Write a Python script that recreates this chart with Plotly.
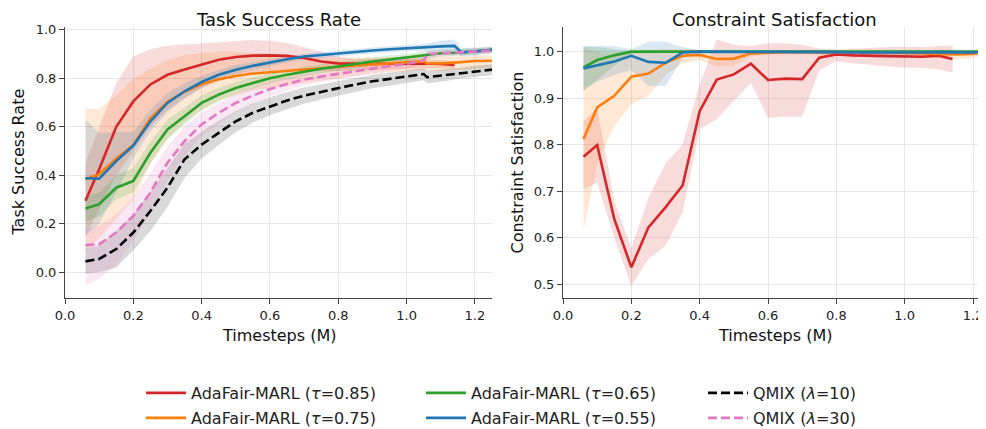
import plotly.graph_objects as go

# ---------------- DATA: Task Success Rate (left) ----------------
tsr_red_x = [0.06, 0.10, 0.15, 0.20, 0.25, 0.30, 0.35, 0.40, 0.45, 0.50, 0.55, 0.60, 0.65, 0.70, 0.75, 0.80, 0.85, 0.90, 0.95, 1.00, 1.05, 1.10, 1.14]
tsr_red = [0.295, 0.425, 0.60, 0.705, 0.775, 0.815, 0.837, 0.858, 0.877, 0.888, 0.894, 0.895, 0.893, 0.884, 0.870, 0.862, 0.860, 0.860, 0.861, 0.862, 0.862, 0.860, 0.855]
tsr_red_hi = [0.45, 0.60, 0.78, 0.89, 0.92, 0.935, 0.94, 0.945, 0.95, 0.955, 0.958, 0.955, 0.945, 0.93, 0.91, 0.89, 0.88, 0.88, 0.88, 0.88, 0.88, 0.875, 0.87]
tsr_red_lo = [0.15, 0.26, 0.40, 0.50, 0.60, 0.67, 0.72, 0.76, 0.79, 0.81, 0.82, 0.83, 0.835, 0.835, 0.83, 0.83, 0.83, 0.835, 0.838, 0.84, 0.842, 0.842, 0.84]

tsr_orange_x = [0.06, 0.10, 0.15, 0.20, 0.25, 0.30, 0.35, 0.40, 0.45, 0.50, 0.55, 0.60, 0.65, 0.70, 0.75, 0.80, 0.85, 0.90, 0.95, 1.00, 1.05, 1.06, 1.10, 1.15, 1.20, 1.25]
tsr_orange = [0.384, 0.405, 0.47, 0.525, 0.635, 0.703, 0.745, 0.776, 0.796, 0.81, 0.82, 0.826, 0.832, 0.838, 0.843, 0.848, 0.853, 0.858, 0.862, 0.866, 0.87, 0.862, 0.862, 0.866, 0.872, 0.873]
tsr_orange_hi = [0.675, 0.675, 0.73, 0.80, 0.84, 0.875, 0.895, 0.905, 0.91, 0.91, 0.905, 0.90, 0.895, 0.89, 0.885, 0.885, 0.885, 0.885, 0.888, 0.89, 0.895, 0.89, 0.89, 0.89, 0.895, 0.895]
tsr_orange_lo = [0.09, 0.14, 0.22, 0.30, 0.45, 0.55, 0.62, 0.67, 0.71, 0.73, 0.75, 0.76, 0.77, 0.78, 0.79, 0.80, 0.81, 0.82, 0.825, 0.83, 0.835, 0.83, 0.83, 0.835, 0.84, 0.845]

tsr_green_x = [0.06, 0.10, 0.15, 0.20, 0.25, 0.30, 0.35, 0.40, 0.45, 0.50, 0.55, 0.60, 0.65, 0.70, 0.75, 0.80, 0.85, 0.90, 0.95, 1.00, 1.05, 1.10, 1.15, 1.20, 1.25]
tsr_green = [0.263, 0.281, 0.349, 0.377, 0.493, 0.589, 0.644, 0.699, 0.733, 0.76, 0.781, 0.801, 0.815, 0.829, 0.84, 0.849, 0.86, 0.87, 0.878, 0.886, 0.893, 0.904, 0.906, 0.911, 0.918]
tsr_green_hi = [0.31, 0.33, 0.40, 0.43, 0.54, 0.63, 0.68, 0.73, 0.76, 0.785, 0.805, 0.822, 0.835, 0.848, 0.858, 0.867, 0.877, 0.886, 0.894, 0.902, 0.909, 0.918, 0.92, 0.924, 0.93]
tsr_green_lo = [0.21, 0.23, 0.30, 0.33, 0.45, 0.55, 0.61, 0.67, 0.705, 0.735, 0.757, 0.78, 0.795, 0.81, 0.822, 0.831, 0.843, 0.854, 0.862, 0.87, 0.877, 0.89, 0.892, 0.898, 0.906]

tsr_blue_x = [0.06, 0.10, 0.15, 0.20, 0.25, 0.30, 0.35, 0.40, 0.45, 0.50, 0.55, 0.60, 0.65, 0.70, 0.75, 0.80, 0.85, 0.90, 0.95, 1.00, 1.05, 1.10, 1.14, 1.16, 1.20, 1.25]
tsr_blue = [0.388, 0.386, 0.459, 0.523, 0.623, 0.699, 0.747, 0.785, 0.815, 0.836, 0.852, 0.866, 0.879, 0.89, 0.897, 0.904, 0.91, 0.915, 0.92, 0.925, 0.927, 0.932, 0.934, 0.908, 0.911, 0.918]
tsr_blue_hi = [0.63, 0.575, 0.58, 0.58, 0.67, 0.74, 0.78, 0.81, 0.835, 0.855, 0.868, 0.88, 0.892, 0.902, 0.909, 0.916, 0.922, 0.927, 0.933, 0.938, 0.942, 0.955, 0.96, 0.925, 0.926, 0.93]
tsr_blue_lo = [0.15, 0.20, 0.33, 0.47, 0.58, 0.66, 0.715, 0.76, 0.795, 0.818, 0.836, 0.852, 0.866, 0.878, 0.885, 0.892, 0.898, 0.903, 0.907, 0.912, 0.912, 0.912, 0.91, 0.892, 0.896, 0.905]

tsr_black_x = [0.06, 0.10, 0.15, 0.20, 0.25, 0.30, 0.35, 0.40, 0.45, 0.50, 0.55, 0.60, 0.65, 0.70, 0.75, 0.80, 0.85, 0.90, 0.95, 1.00, 1.05, 1.06, 1.10, 1.15, 1.20, 1.25]
tsr_black = [0.045, 0.055, 0.096, 0.164, 0.253, 0.349, 0.466, 0.527, 0.575, 0.623, 0.658, 0.685, 0.709, 0.729, 0.745, 0.76, 0.775, 0.788, 0.798, 0.808, 0.818, 0.805, 0.811, 0.82, 0.829, 0.836]
tsr_black_hi = [0.10, 0.11, 0.17, 0.24, 0.33, 0.43, 0.53, 0.58, 0.625, 0.665, 0.697, 0.722, 0.744, 0.762, 0.776, 0.79, 0.803, 0.815, 0.824, 0.833, 0.842, 0.83, 0.835, 0.843, 0.852, 0.858]
tsr_black_lo = [-0.005, 0.0, 0.02, 0.09, 0.17, 0.27, 0.39, 0.47, 0.525, 0.578, 0.618, 0.648, 0.673, 0.695, 0.713, 0.729, 0.745, 0.759, 0.77, 0.781, 0.792, 0.78, 0.786, 0.797, 0.806, 0.814]

tsr_pink_x = [0.06, 0.10, 0.15, 0.20, 0.25, 0.30, 0.35, 0.40, 0.45, 0.50, 0.55, 0.60, 0.65, 0.70, 0.75, 0.80, 0.85, 0.90, 0.95, 1.00, 1.05, 1.06, 1.10, 1.15, 1.20, 1.25]
tsr_pink = [0.112, 0.116, 0.164, 0.233, 0.329, 0.452, 0.541, 0.61, 0.658, 0.699, 0.729, 0.756, 0.777, 0.795, 0.808, 0.819, 0.831, 0.842, 0.851, 0.86, 0.874, 0.90, 0.904, 0.906, 0.911, 0.915]
tsr_pink_hi = [0.18, 0.19, 0.24, 0.31, 0.41, 0.52, 0.60, 0.66, 0.70, 0.735, 0.762, 0.787, 0.805, 0.82, 0.833, 0.843, 0.853, 0.863, 0.872, 0.88, 0.892, 0.915, 0.918, 0.92, 0.924, 0.928]
tsr_pink_lo = [-0.055, -0.027, 0.03, 0.13, 0.25, 0.38, 0.48, 0.56, 0.615, 0.66, 0.695, 0.725, 0.75, 0.77, 0.785, 0.797, 0.81, 0.822, 0.832, 0.841, 0.857, 0.885, 0.89, 0.893, 0.898, 0.902]

# ---------------- DATA: Constraint Satisfaction (right) ----------------
cs_red_x = [0.06, 0.10, 0.15, 0.20, 0.25, 0.30, 0.35, 0.40, 0.45, 0.50, 0.55, 0.60, 0.65, 0.70, 0.75, 0.80, 0.85, 0.90, 0.95, 1.00, 1.05, 1.10, 1.14]
cs_red = [0.774, 0.799, 0.64, 0.536, 0.622, 0.665, 0.712, 0.872, 0.94, 0.951, 0.974, 0.939, 0.942, 0.941, 0.987, 0.994, 0.992, 0.991, 0.99, 0.989, 0.989, 0.991, 0.984]
cs_red_hi = [0.85, 0.88, 0.68, 0.577, 0.685, 0.76, 0.80, 0.93, 1.026, 1.015, 1.012, 1.018, 1.018, 1.015, 1.006, 1.004, 1.006, 1.008, 1.01, 1.01, 1.01, 1.012, 1.013]
cs_red_lo = [0.704, 0.718, 0.60, 0.496, 0.554, 0.582, 0.654, 0.833, 0.855, 0.894, 0.933, 0.858, 0.86, 0.86, 0.96, 0.98, 0.975, 0.972, 0.968, 0.966, 0.965, 0.962, 0.955]

cs_x = [0.06, 0.10, 0.15, 0.20, 0.25, 0.30, 0.35, 0.40, 0.45, 0.50, 0.55, 0.60, 0.65, 0.70, 0.75, 0.80, 0.85, 0.90, 0.95, 1.00, 1.05, 1.10, 1.15, 1.20, 1.25]
cs_orange = [0.812, 0.88, 0.905, 0.946, 0.953, 0.976, 0.991, 0.993, 0.984, 0.985, 0.996, 0.998, 0.999, 0.999, 0.999, 0.999, 0.998, 0.998, 0.998, 0.997, 0.996, 0.995, 0.994, 0.995, 1.0]
cs_orange_hi = [1.01, 1.0, 0.998, 1.0, 1.003, 1.005, 1.005, 1.004, 1.0, 1.0, 1.003, 1.004, 1.004, 1.004, 1.004, 1.004, 1.004, 1.004, 1.004, 1.004, 1.005, 1.005, 1.005, 1.004, 1.003]
cs_orange_lo = [0.615, 0.76, 0.84, 0.887, 0.905, 0.95, 0.975, 0.982, 0.968, 0.97, 0.99, 0.993, 0.994, 0.994, 0.994, 0.994, 0.993, 0.992, 0.991, 0.99, 0.988, 0.985, 0.983, 0.986, 0.997]

cs_green = [0.966, 0.982, 0.992, 1.0, 1.0, 1.0, 1.0, 1.0, 0.999, 0.999, 1.0, 1.0, 1.0, 1.0, 1.0, 1.0, 1.0, 1.0, 1.0, 1.0, 1.0, 1.0, 1.0, 1.0, 1.0]
cs_green_hi = [1.011, 1.01, 1.005, 1.002, 1.001, 1.001, 1.001, 1.001, 1.001, 1.001, 1.001, 1.001, 1.001, 1.001, 1.001, 1.001, 1.001, 1.001, 1.001, 1.001, 1.001, 1.001, 1.001, 1.001, 1.001]
cs_green_lo = [0.915, 0.94, 0.97, 0.995, 0.998, 0.998, 0.998, 0.998, 0.997, 0.997, 0.998, 0.998, 0.998, 0.998, 0.998, 0.998, 0.998, 0.998, 0.998, 0.998, 0.998, 0.998, 0.998, 0.998, 0.998]

cs_blue = [0.964, 0.971, 0.979, 0.991, 0.978, 0.976, 0.998, 1.0, 1.0, 1.0, 1.0, 1.0, 1.0, 0.999, 0.999, 0.999, 0.998, 0.998, 0.997, 0.997, 0.998, 0.999, 0.998, 0.998, 1.0]
cs_blue_hi = [1.012, 1.012, 1.012, 1.005, 1.021, 1.021, 1.01, 1.003, 1.002, 1.002, 1.002, 1.002, 1.002, 1.002, 1.002, 1.002, 1.003, 1.004, 1.004, 1.004, 1.004, 1.003, 1.003, 1.002, 1.002]
cs_blue_lo = [0.918, 0.935, 0.95, 0.96, 0.926, 0.926, 0.985, 0.997, 0.998, 0.998, 0.998, 0.998, 0.997, 0.996, 0.995, 0.993, 0.99, 0.987, 0.986, 0.986, 0.988, 0.991, 0.994, 0.995, 0.998]

tick_x = [0, 0.2, 0.4, 0.6, 0.8, 1.0, 1.2]
tick_x_text = ["0.0", "0.2", "0.4", "0.6", "0.8", "1.0", "1.2"]
tick_tsr = [0, 0.2, 0.4, 0.6, 0.8, 1.0]
tick_tsr_text = ["0.0", "0.2", "0.4", "0.6", "0.8", "1.0"]
tick_cs = [0.5, 0.6, 0.7, 0.8, 0.9, 1.0]
tick_cs_text = ["0.5", "0.6", "0.7", "0.8", "0.9", "1.0"]

names = {
    "red": "AdaFair-MARL (<i>τ</i>=0.85)",
    "orange": "AdaFair-MARL (<i>τ</i>=0.75)",
    "green": "AdaFair-MARL (<i>τ</i>=0.65)",
    "blue": "AdaFair-MARL (<i>τ</i>=0.55)",
    "black": "QMIX (<i>λ</i>=10)",
    "pink": "QMIX (<i>λ</i>=30)",
}
colors = {"red": "#d62728", "orange": "#ff7f0e", "green": "#2ca02c",
          "blue": "#1f77b4", "black": "#000000", "pink": "#e377c2"}
fills = {"red": "rgba(214,39,40,0.17)", "orange": "rgba(255,127,14,0.17)",
         "green": "rgba(44,160,44,0.17)", "blue": "rgba(31,119,180,0.17)",
         "black": "rgba(0,0,0,0.15)", "pink": "rgba(227,119,194,0.17)"}
legend_of = {"red": "legend", "orange": "legend2", "green": "legend3",
             "blue": "legend4", "black": "legend5", "pink": "legend6"}

left = [
    ("red", tsr_red_x, tsr_red, tsr_red_lo, tsr_red_hi),
    ("orange", tsr_orange_x, tsr_orange, tsr_orange_lo, tsr_orange_hi),
    ("green", tsr_green_x, tsr_green, tsr_green_lo, tsr_green_hi),
    ("blue", tsr_blue_x, tsr_blue, tsr_blue_lo, tsr_blue_hi),
    ("black", tsr_black_x, tsr_black, tsr_black_lo, tsr_black_hi),
    ("pink", tsr_pink_x, tsr_pink, tsr_pink_lo, tsr_pink_hi),
]
right = [
    ("red", cs_red_x, cs_red, cs_red_lo, cs_red_hi),
    ("orange", cs_x, cs_orange, cs_orange_lo, cs_orange_hi),
    ("green", cs_x, cs_green, cs_green_lo, cs_green_hi),
    ("blue", cs_x, cs_blue, cs_blue_lo, cs_blue_hi),
]

fig = go.Figure()

def add_bands(series, xa, ya):
    for key, x, m, lo, hi in series:
        fig.add_trace(go.Scatter(x=x, y=lo, mode="lines", line=dict(width=0),
                                 xaxis=xa, yaxis=ya, showlegend=False, hoverinfo="skip"))
        fig.add_trace(go.Scatter(x=x, y=hi, mode="lines", line=dict(width=0),
                                 fill="tonexty", fillcolor=fills[key],
                                 xaxis=xa, yaxis=ya, showlegend=False, hoverinfo="skip"))

def add_lines(series, xa, ya, show):
    for key, x, m, lo, hi in series:
        dash = "9px,4px" if key in ("black", "pink") else "solid"
        fig.add_trace(go.Scatter(x=x, y=m, mode="lines", name=names[key],
                                 line=dict(color=colors[key], width=2.6, dash=dash),
                                 xaxis=xa, yaxis=ya, showlegend=show,
                                 legend=legend_of[key]))

add_bands(left, "x", "y")
add_bands(right, "x2", "y2")
add_lines(left, "x", "y", True)
add_lines(right, "x2", "y2", False)

# The page body has an 8px margin; layout below is expressed in screen pixels.
OFF = 8
W, H = 986 - OFF, 429 - OFF
PLOT_L, PLOT_T, PLOT_B = 65 - OFF, 27 - OFF, 298 - OFF
ML, MR, MT, MB = PLOT_L, 0, PLOT_T, H - PLOT_B
PW, PH = W - ML - MR, H - MT - MB

def px_x(screen_x):
    return (screen_x - OFF - ML) / PW

def px_y(screen_y):
    return (H - MB - (screen_y - OFF)) / PH

FONT = "DejaVu Sans, Verdana, sans-serif"
SPINE = "#444444"
GRID = "#e6e6e6"

axis_common = dict(showline=True, linecolor=SPINE, linewidth=1.1, ticks="outside",
                   ticklen=5, tickwidth=1.1, tickcolor=SPINE, showgrid=True,
                   gridcolor=GRID, gridwidth=1, zeroline=False, automargin=False,
                   tickfont=dict(family=FONT, size=13, color="#222"), mirror=False)

fig.update_layout(
    width=W, height=H,
    margin=dict(l=ML, r=MR, t=MT, b=MB, autoexpand=False),
    paper_bgcolor="white", plot_bgcolor="white",
    font=dict(family=FONT, color="#222"),
    xaxis=dict(domain=[0, px_x(492)], range=[0, 1.25], tickvals=tick_x,
               ticktext=tick_x_text, anchor="y", **axis_common),
    yaxis=dict(domain=[0, 1], range=[-0.106, 1.012], tickvals=tick_tsr,
               ticktext=tick_tsr_text, anchor="x", **axis_common),
    xaxis2=dict(domain=[px_x(563), 1], range=[0, 1.238], tickvals=tick_x,
                ticktext=tick_x_text, anchor="y2", **axis_common),
    yaxis2=dict(domain=[0, 1], range=[0.47, 1.053], tickvals=tick_cs,
                ticktext=tick_cs_text, anchor="x2", **axis_common),
    showlegend=True,
)

leg_font = dict(family=FONT, size=16, color="#222")
leg_pos = {"legend": (141, 393), "legend2": (141, 418), "legend3": (421, 393),
           "legend4": (421, 418), "legend5": (703, 393), "legend6": (703, 418)}
for lk, (lx, ly) in leg_pos.items():
    fig.update_layout({lk: dict(x=px_x(lx), y=px_y(ly), xanchor="left", yanchor="middle",
                                orientation="v", font=leg_font, bgcolor="rgba(0,0,0,0)",
                                borderwidth=0, itemwidth=40)})

def label(text, sx, sy, size, angle=0, yanchor="middle"):
    return dict(text=text, x=px_x(sx), y=px_y(sy), xref="paper", yref="paper",
                showarrow=False, textangle=angle, borderpad=0,
                font=dict(family=FONT, size=size, color="#111"),
                xanchor="center", yanchor=yanchor)

ann = [
    label("Task Success Rate", 278.5, OFF + 0.5, 18, yanchor="top"),
    label("Constraint Satisfaction", 774.5, OFF + 0.5, 18, yanchor="top"),
    label("Timesteps (M)", 278.5, 335, 16),
    label("Timesteps (M)", 774.5, 335, 16),
    label("Task Success Rate", 18, 162.5, 16, -90),
    label("Constraint Satisfaction", 517, 162.5, 16, -90),
]
fig.update_layout(annotations=ann)

fig.write_html("out.html")
